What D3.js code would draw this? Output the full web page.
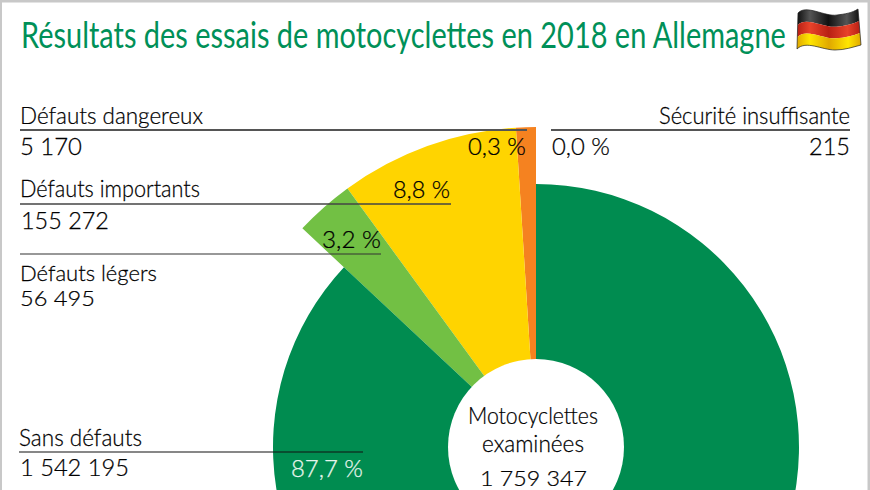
<!DOCTYPE html>
<html lang="fr"><head><meta charset="utf-8">
<script src="https://d3js.org/d3.v7.min.js"></script>
<style>html,body{margin:0;padding:0;background:#fff;overflow:hidden}svg{display:block}text{font-family:Lato,"Open Sans",sans-serif;font-weight:300}</style>
</head><body><svg id="c" width="870" height="490"></svg>
<script>
// --- data ---
const title = "Résultats des essais de motocyclettes en 2018 en Allemagne";
const categories = ["Défauts dangereux","Défauts importants","Défauts légers","Sans défauts"];
const counts = ["5 170","155 272","56 495","1 542 195"];
const percents = ["0,3 %","8,8 %","3,2 %","87,7 %"];
const drawnSweepDegrees = [3.6,32.5,10.8,313.1]; // wedge sizes as drawn in the picture (not to scale)
const outerGroup = [1,1,1,0];
const extraCategory = "Sécurité insuffisante", extraCount = "215", extraPercent = "0,0 %";
const centerLabel = ["Motocyclettes","examinées","1 759 347"];
// --- layout ---
const colors = ["#f58220","#ffd400","#72c044","#008c50"];
const cx=536, cy=447, rInner=88, rBig=320, rMain=263;
const svg=d3.select("#c");
svg.append("rect").attr("x",0.75).attr("y",1.25).attr("width",868).attr("height",500).attr("fill","none").attr("stroke","#c8c8c8").attr("stroke-width",2.5);
// each text is fitted horizontally to the span it occupies in the picture
function txt(s,x1,x2,y,o={}){
 const fill=o.fill||"#000";
 const t=svg.append("text").attr("font-size",o.size||23.5).attr("fill",fill).style("font-weight",o.weight||300)
  .attr("stroke",fill).attr("stroke-width",o.stroke===undefined?0.25:o.stroke).text(s);
 const k=(x2-x1)/t.node().getComputedTextLength();
 t.attr("transform",`translate(${x1},${y}) scale(${k},1)`);
 return t;
}
txt(title,21,786,47.5,{size:36,fill:"#009058",weight:400,stroke:0});

// pie: counter-clockwise from 12 o'clock
const pie=d3.pie().value(d=>d.sweep).sort(null).startAngle(0).endAngle(-2*Math.PI);
const arcs=pie(categories.map((c,i)=>({c,sweep:drawnSweepDegrees[i],big:outerGroup[i],color:colors[i]})));
const arc=d3.arc().innerRadius(rInner-2).outerRadius(d=>d.data.big?rBig:rMain);
const g=svg.append("g").attr("transform",`translate(${cx},${cy})`);
g.selectAll("path").data(arcs).join("path").attr("d",arc).attr("fill",d=>d.data.color);
g.append("circle").attr("r",rInner).attr("fill","#fff");

// leader rules
const rules=[[20,527,130,"#555",1.8],[551,850,130,"#555",1.8],[20,451,204,"#444",1.6],[20,381,254,"#333",1.2],[19,363,452,"#111",1.2]];
svg.selectAll("line.r").data(rules).join("line").attr("class","r")
 .attr("x1",d=>d[0]).attr("x2",d=>d[1]).attr("y1",d=>d[2]).attr("y2",d=>d[2]).attr("stroke",d=>d[3]).attr("stroke-width",d=>d[4]);

// labels
txt(categories[0],20,203,124); txt(counts[0],20,82,155); txt(percents[0],468,526,155);
txt(categories[1],20,200,197); txt(counts[1],21,109,229); txt(percents[1],393,450,198);
txt(categories[2],20,157,281,{size:22}); txt(counts[2],20,95,306,{size:22}); txt(percents[2],322,381,248);
txt(categories[3],19,142,446); txt(counts[3],20,129,476); txt(percents[3],291,363,477,{fill:"#e6f5ec"});
txt(extraCategory,659,850,124); txt(extraPercent,552,610,155); txt(extraCount,809,850,155);
txt(centerLabel[0],468,598,424); txt(centerLabel[1],482,584,452); txt(centerLabel[2],480,587,485.5,{size:22});

// flag
const defs=svg.append("defs");
[["fk","#555","#111"],["fr","#e8432a","#b81f14"],["fy","#ffe600","#e0a800"]].forEach(([id,a,b])=>{
 const lg=defs.append("linearGradient").attr("id",id);
 [[0,b],[.2,a],[.5,b],[.8,a],[1,b]].forEach(([o,c])=>lg.append("stop").attr("offset",o).attr("stop-color",c));
});
const lerp=(a,b,t)=>a+(b-a)*t;
const top_=[[798,13],[806,4],[825,17],[837,15],[845,14],[852,13],[858,9]];
const bot=[[797,49],[806,40],[822,50],[835,50],[845,50],[853,47],[861,45]];
const edge=t=>top_.map((p,i)=>[lerp(p[0],bot[i][0],t),lerp(p[1],bot[i][1],t)]);
const band=(t0,t1)=>{const a=edge(t0),b=edge(t1).reverse();
 const s=p=>p.map(q=>q.join(",")).join(" ");
 return `M${a[0]} C${s(a.slice(1,4))} C${s(a.slice(4))} L${b[0]} C${s(b.slice(1,4))} C${s(b.slice(4))} Z`;};
[["fk",0,1/3],["fr",1/3,2/3],["fy",2/3,1]].forEach(([id,a,b])=>svg.append("path").attr("d",band(a,b)).attr("fill",`url(#${id})`));
svg.append("path").attr("d",band(0,1)).attr("fill","none").attr("stroke","#222").attr("stroke-width",.7);
</script></body></html>
